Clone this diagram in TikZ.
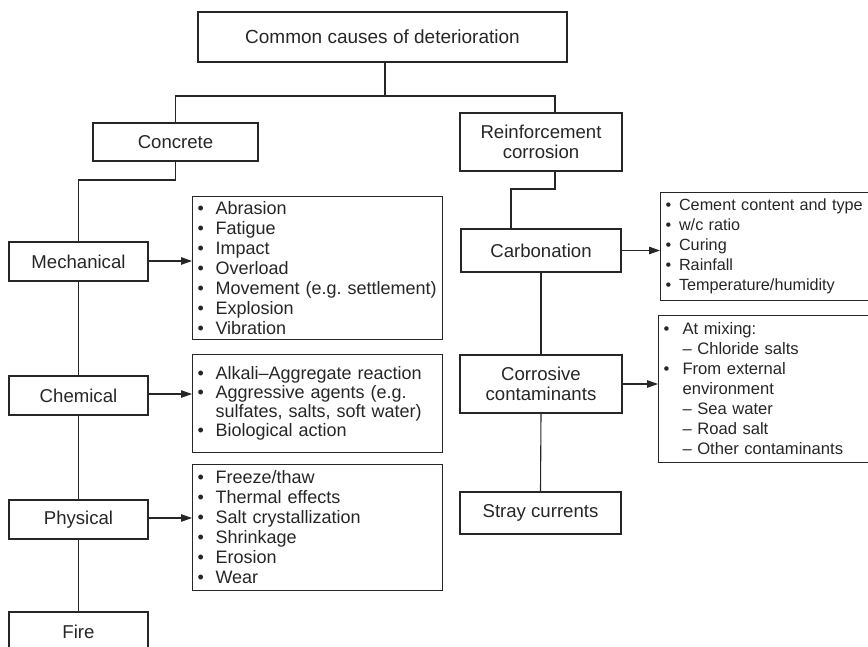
\documentclass[tikz,border=0pt]{standalone}
\usepackage{fontspec}
\setmainfont{Liberation Sans}
\usetikzlibrary{arrows.meta}
\definecolor{ink}{HTML}{262626}
\frenchspacing
% bullet item and continuation line with a fixed hanging indent; lines never wrap
\newcommand{\itm}[2][18pt]{\mbox{\makebox[#1][l]{•}#2}}
\newcommand{\cnt}[2][18pt]{\mbox{\hspace*{#1}#2}}
\begin{document}
\begin{tikzpicture}[x=1pt,y=-1pt,
  box/.style={draw=ink,line width=1.1pt,text=ink,inner sep=0pt,align=center,
    font=\fontsize{18.6}{20}\selectfont},
  listbox/.style={draw=ink,line width=1.1pt,text=ink,inner xsep=5pt,inner ysep=0pt,
    align=left,anchor=north west},
  lfont/.style={font=\fontsize{18}{20}\selectfont},
  rfont/.style={font=\fontsize{16.6}{20}\selectfont},
  link/.style={draw=ink,line width=1.1pt},
  arr/.style={link,-{Triangle[length=11pt,width=7.5pt]}}]
\useasboundingbox (0,0) rectangle (868,647);

% main boxes
\node[box,minimum width=369,minimum height=50,font=\fontsize{19}{20}\selectfont] (top) at (382.5,37) {Common causes of deterioration};
\node[box,minimum width=165,minimum height=38] (conc) at (175.5,142) {Concrete};
\node[box,minimum width=162,minimum height=58] (reinf) at (541,142) {Reinforcement\\corrosion};

% concrete branch
\node[box,minimum width=139,minimum height=39] (mech) at (78.5,261.5) {Mechanical};
\node[box,minimum width=139,minimum height=39] (chem) at (78.5,395.5) {Chemical};
\node[box,minimum width=139,minimum height=39] (phys) at (78.5,519.5) {Physical};
\node[box,minimum width=139,minimum height=39] (fire) at (78.5,631.5) {Fire};

% reinforcement branch
\node[box,minimum width=160,minimum height=43] (carb) at (541,250.5) {Carbonation};
\node[box,minimum width=162,minimum height=58] (corr) at (541,384) {Corrosive\\contaminants};
\node[box,minimum width=161,minimum height=42] (stray) at (540.5,513) {Stray currents};

% lists of factors
\node[listbox,lfont,text width=240,minimum height=143] (mlist) at (192,196) {%
\itm{Abrasion}\\
\itm{Fatigue}\\
\itm{Impact}\\
\itm{Overload}\\
\itm{Movement (e.g. settlement)}\\
\itm{Explosion}\\
\itm{Vibration}};
\node[listbox,font=\fontsize{18}{19}\selectfont,text width=240,minimum height=98] (clist) at (192,354) {%
\itm{Alkali–Aggregate reaction}\\
\itm{Aggressive agents (e.g.}\\
\cnt{sulfates, salts, soft water)}\\
\itm{Biological action}};
\node[listbox,lfont,text width=240,minimum height=126] (plist) at (192,464) {%
\itm{Freeze/thaw}\\
\itm{Thermal effects}\\
\itm{Salt crystallization}\\
\itm{Shrinkage}\\
\itm{Erosion}\\
\itm{Wear}};
\node[listbox,font=\fontsize{16.2}{20}\selectfont,text width=240,minimum height=108] (cblist) at (660,192) {%
\itm[13.5pt]{Cement content and type}\\
\itm[13.5pt]{w/c ratio}\\
\itm[13.5pt]{Curing}\\
\itm[13.5pt]{Rainfall}\\
\itm[13.5pt]{Temperature/humidity}};
\node[listbox,rfont,text width=240,minimum height=147] (crlist) at (658,315) {%
\itm[19pt]{At mixing:}\\
\cnt[19pt]{– Chloride salts}\\
\itm[19pt]{From external}\\
\cnt[19pt]{environment}\\
\cnt[19pt]{– Sea water}\\
\cnt[19pt]{– Road salt}\\
\cnt[19pt]{– Other contaminants}};

% tree connectors
\coordinate (j1) at (385,96);
\coordinate (cb) at (0,180);
\coordinate (rb) at (0,189);
\draw[link] (top.south -| j1) -- (j1);
\draw[link] (conc.north) |- (j1) -| ([xshift=14pt]reinf.north);
\draw[link] (conc.south) -- (conc.south |- cb) -| (mech.north);
\draw[link] (mech.south) -- (chem.north);
\draw[link] (chem.south) -- (phys.north);
\draw[link] (phys.south) -- (fire.north);
\draw[link] ([xshift=14pt]reinf.south) -- ([xshift=14pt]reinf.south |- rb) -| ([xshift=-30pt]carb.north);
\draw[link] (carb.south) -- (corr.north);
\draw[link] (corr.south) -- (stray.north);

% arrows to the lists
\draw[arr] ([yshift=0.5pt]mech.east) -- ([yshift=0.5pt]mech.east -| mlist.west);
\draw[arr] ([yshift=1.5pt]chem.east) -- ([yshift=1.5pt]chem.east -| clist.west);
\draw[arr] ([yshift=1.5pt]phys.east) -- ([yshift=1.5pt]phys.east -| plist.west);
\draw[arr] (carb.east) -- (carb.east -| cblist.west);
\draw[arr] (corr.east) -- (corr.east -| crlist.west);
\end{tikzpicture}
\end{document}
